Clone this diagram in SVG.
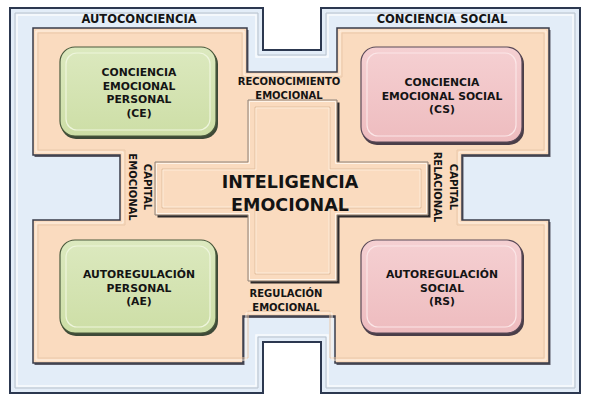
<svg xmlns="http://www.w3.org/2000/svg" width="605" height="406" viewBox="0 0 605 406">
<defs>
<style>
.t{font-family:"DejaVu Sans","Liberation Sans",sans-serif;font-weight:bold;fill:#141414;text-anchor:middle}
.s10{font-size:10px}
.s11{font-size:10.8px}
.s12{font-size:11.5px}
.big{font-size:17.5px}
.edge{stroke:#2c3850;stroke-width:2;stroke-linejoin:miter}
.bevel{fill:none;stroke:#ffffff;stroke-width:1.5;opacity:0.8}
.bevel2{fill:none;stroke:#b9c2cc;stroke-width:1}
</style>
<linearGradient id="gGreen" x1="0" y1="0" x2="0" y2="1">
<stop offset="0" stop-color="#dce9bf"/><stop offset="1" stop-color="#cddea6"/>
</linearGradient>
<linearGradient id="gPink" x1="0" y1="0" x2="0" y2="1">
<stop offset="0" stop-color="#f5d0d2"/><stop offset="1" stop-color="#eebcbf"/>
</linearGradient>
</defs>
<rect width="605" height="406" fill="#ffffff"/>

<g id="regions">
<polygon points="10,8 263,8 263,50 321,50 321,8 580,8 580,393 321,393 321,342 263,342 263,393 10,393" fill="#e3edf8" class="edge"/>
<polygon points="15,13 258,13 258,55 326,55 326,13 575,13 575,388 326,388 326,337 258,337 258,388 15,388" class="bevel2"/>
<polygon points="17,15 256,15 256,57 328,57 328,15 573,15 573,386 328,386 328,335 256,335 256,386 17,386" class="bevel"/>
<polygon transform="translate(1.5,2)" points="33,28 247,28 247,72 337,72 337,28 549,28 549,155 462,155 462,220 549,220 549,363 335,363 335,316 243,316 243,363 33,363 33,220 120,220 120,155 33,155" fill="#5a5a66"/>
<polygon points="33,28 247,28 247,72 337,72 337,28 549,28 549,155 462,155 462,220 549,220 549,363 335,363 335,316 243,316 243,363 33,363 33,220 120,220 120,155 33,155" fill="#fadbbf" stroke="#3a3c4a" stroke-width="1.5"/>
<polygon points="38,33 242,33 242,77 342,77 342,33 544,33 544,150 457,150 457,225 544,225 544,358 330,358 330,311 248,311 248,358 38,358 38,225 125,225 125,150 38,150" fill="none" stroke="#e9c8aa" stroke-width="1"/>
<polygon points="36,31 244,31 244,75 340,75 340,31 546,31 546,152 459,152 459,223 546,223 546,360 332,360 332,313 246,313 246,360 36,360 36,223 123,223 123,152 36,152" fill="none" stroke="#fff3e6" stroke-width="1"/>
<text class="t s12" x="139" y="23">AUTOCONCIENCIA</text>
<text class="t s12" x="442" y="23">CONCIENCIA SOCIAL</text>
</g>

<g id="connectors">
<text class="t s10" x="289" y="85">RECONOCIMIENTO</text>
<text class="t s10" x="289" y="98.5">EMOCIONAL</text>
<text class="t s10" x="286" y="297">REGULACIÓN</text>
<text class="t s10" x="286" y="311">EMOCIONAL</text>
<text class="t s10" transform="translate(144,187) rotate(90)">CAPITAL</text>
<text class="t s10" transform="translate(129,187) rotate(90)">EMOCIONAL</text>
<text class="t s10" transform="translate(450,187) rotate(90)">CAPITAL</text>
<text class="t s10" transform="translate(434,187) rotate(90)">RELACIONAL</text>
</g>

<g id="inteligencia-emocional">
<polygon transform="translate(2.5,2.5)" points="248,100 337,100 337,162 428,162 428,215 337,215 337,281 248,281 248,215 155,215 155,162 248,162" fill="#2e2a2a"/>
<polygon points="248,100 337,100 337,162 428,162 428,215 337,215 337,281 248,281 248,215 155,215 155,162 248,162" fill="#fadbbf" stroke="#8c827a" stroke-width="1"/>
<polygon points="249.5,101.5 335.5,101.5 335.5,163.5 426.5,163.5 426.5,213.5 335.5,213.5 335.5,279.5 249.5,279.5 249.5,213.5 156.5,213.5 156.5,163.5 249.5,163.5" fill="none" stroke="#fff4e8" stroke-width="1"/>
<polygon points="255,107 330,107 330,169 421,169 421,208 330,208 330,274 255,274 255,208 162,208 162,169 255,169" fill="none" stroke="#e2bf9f" stroke-width="1"/>
<polygon points="256,108 329,108 329,170 420,170 420,207 329,207 329,273 256,273 256,207 163,207 163,170 256,170" fill="none" stroke="#fff1e2" stroke-width="0.8"/>
<text class="t big" x="290" y="188">INTELIGENCIA</text>
<text class="t big" x="290" y="211">EMOCIONAL</text>
</g>

<g id="conciencia-emocional-personal">
<rect x="61" y="49" width="157" height="90" rx="15" fill="#3e4a38"/>
<rect x="60" y="47" width="156" height="89" rx="15" fill="url(#gGreen)" stroke="#4a5a3c" stroke-width="1.2"/>
<rect x="66" y="53" width="144" height="77" rx="11" fill="none" stroke="#eef5dc" stroke-width="1.2"/>
<text class="t s11" x="139" y="76">CONCIENCIA</text>
<text class="t s11" x="139" y="90">EMOCIONAL</text>
<text class="t s11" x="139" y="103">PERSONAL</text>
<text class="t s11" x="139" y="117">(CE)</text>
</g>

<g id="conciencia-emocional-social">
<rect x="362" y="49" width="162" height="96" rx="15" fill="#4a3e48"/>
<rect x="361" y="47" width="161" height="95" rx="15" fill="url(#gPink)" stroke="#5a4a58" stroke-width="1.2"/>
<rect x="367" y="53" width="149" height="83" rx="11" fill="none" stroke="#fbe6e7" stroke-width="1.2"/>
<text class="t s11" x="442" y="86">CONCIENCIA</text>
<text class="t s11" x="442" y="100">EMOCIONAL SOCIAL</text>
<text class="t s11" x="442" y="113">(CS)</text>
</g>

<g id="autoregulacion-personal">
<rect x="61" y="242" width="157" height="94" rx="15" fill="#3e4a38"/>
<rect x="60" y="240" width="156" height="93" rx="15" fill="url(#gGreen)" stroke="#4a5a3c" stroke-width="1.2"/>
<rect x="66" y="246" width="144" height="81" rx="11" fill="none" stroke="#eef5dc" stroke-width="1.2"/>
<text class="t s11" x="139" y="278">AUTOREGULACIÓN</text>
<text class="t s11" x="139" y="292">PERSONAL</text>
<text class="t s11" x="139" y="305">(AE)</text>
</g>

<g id="autoregulacion-social">
<rect x="362" y="242" width="162" height="94" rx="15" fill="#4a3e48"/>
<rect x="361" y="240" width="161" height="93" rx="15" fill="url(#gPink)" stroke="#5a4a58" stroke-width="1.2"/>
<rect x="367" y="246" width="149" height="81" rx="11" fill="none" stroke="#fbe6e7" stroke-width="1.2"/>
<text class="t s11" x="442" y="278">AUTOREGULACIÓN</text>
<text class="t s11" x="442" y="292">SOCIAL</text>
<text class="t s11" x="442" y="305">(RS)</text>
</g>
</svg>
